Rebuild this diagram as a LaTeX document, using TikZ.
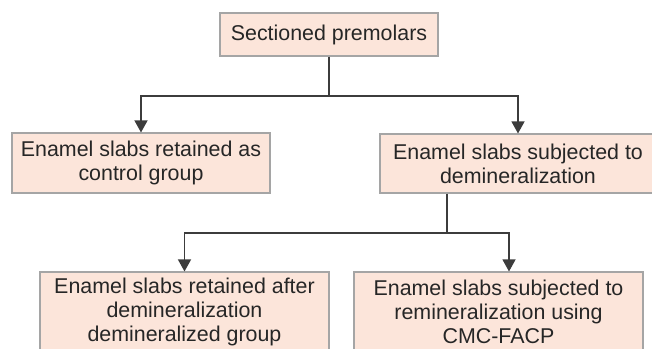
\documentclass[tikz,border=0pt]{standalone}
\usepackage{fontspec}
\setmainfont{Liberation Sans}
\usetikzlibrary{arrows.meta}
\definecolor{boxfill}{RGB}{252,229,218}
\definecolor{boxline}{RGB}{165,165,165}
\definecolor{linkline}{RGB}{60,60,60}
\tikzset{
  stage/.style={draw=boxline,line width=1.1pt,fill=boxfill,align=center,inner sep=0pt,
    text=black!85,font=\fontsize{21.4}{23.8}\selectfont},
  link/.style={draw=linkline,line width=1.3pt},
  arr/.style={link,-{Triangle[width=13pt,length=12pt]}}
}

\begin{document}
\begin{tikzpicture}[x=1pt,y=-1pt]
   \useasboundingbox (0,0) rectangle (652,348);
   % boxes
   \node[stage,minimum width=218pt,minimum height=43pt] (top) at (329,34.5) {Sectioned premolars};
   \node[stage,minimum width=258pt,minimum height=60pt] (ctrl) at (141,163)
     {Enamel slabs retained as\\control group};
   \node[stage,minimum width=276pt,minimum height=59pt] (demin) at (518,163.5)
     {Enamel slabs subjected to\\demineralization};
   \node[stage,minimum width=289pt,minimum height=80pt] (after) at (184.5,312)
     {Enamel slabs retained after\\demineralization\\demineralized group};
   \node[stage,minimum width=289pt,minimum height=80pt] (remin) at (498.5,312)
     {Enamel slabs subjected to\\remineralization using\\CMC-FACP};
   % junctions
   \coordinate (row1) at (0,96);
   \coordinate (row2) at (0,233);
   \coordinate (forkx) at (447,0);
   \coordinate (remx) at (509,0);
   % connectors
   \draw[link] (top.south) -- (top.south |- row1) coordinate (split1);
   \draw[arr] (split1) -| (ctrl.north);
   \draw[arr] (split1) -| (demin.north);
   \draw[link] (demin.south -| forkx) -- (forkx |- row2) coordinate (split2);
   \draw[arr] (split2) -| (after.north);
   \draw[arr] (split2) -| (remin.north -| remx);
\end{tikzpicture}
\end{document}
